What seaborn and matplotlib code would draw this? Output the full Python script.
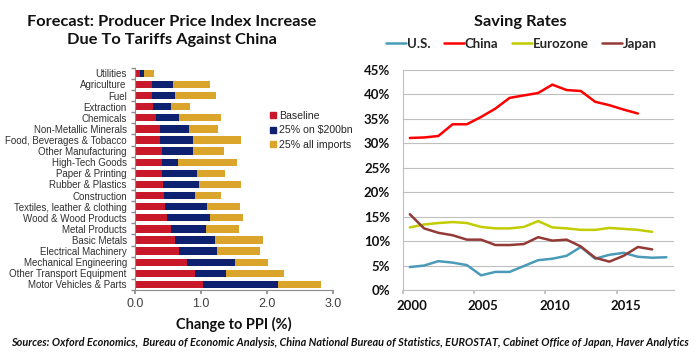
import numpy as np
import pandas as pd
import seaborn as sns
import matplotlib.pyplot as plt
from matplotlib.lines import Line2D
from matplotlib.ticker import FixedLocator

# ---------------- data ----------------
categories = ["Utilities", "Agriculture", "Fuel", "Extraction", "Chemicals",
              "Non-Metallic Minerals", "Food, Beverages & Tobacco", "Other Manufacturing",
              "High-Tech Goods", "Paper & Printing", "Rubber & Plastics", "Construction",
              "Textiles, leather & clothing", "Wood & Wood Products", "Metal Products",
              "Basic Metals", "Electrical Machinery", "Mechanical Engineering",
              "Other Transport Equipment", "Motor Vehicles & Parts"]
baseline = [0.07, 0.26, 0.26, 0.27, 0.31, 0.37, 0.38, 0.40, 0.40, 0.41,
            0.43, 0.44, 0.46, 0.49, 0.54, 0.61, 0.66, 0.79, 0.90, 1.03]
on_200bn = [0.07, 0.32, 0.34, 0.28, 0.36, 0.45, 0.49, 0.47, 0.25, 0.52,
            0.54, 0.47, 0.63, 0.65, 0.53, 0.60, 0.58, 0.73, 0.47, 1.14]
all_imports = [0.15, 0.56, 0.63, 0.28, 0.63, 0.44, 0.73, 0.48, 0.89, 0.43,
               0.63, 0.39, 0.50, 0.50, 0.51, 0.72, 0.65, 0.49, 0.89, 0.64]
bar_series = ["Baseline", "25% on $200bn", "25% all imports"]
ppi_ticks = [0.0, 1.0, 2.0, 3.0]

years = list(range(2000, 2019))
us = [4.7, 5.0, 5.9, 5.6, 5.1, 3.0, 3.7, 3.7, 4.9, 6.1, 6.4, 7.0, 8.8, 6.4,
      7.2, 7.6, 6.8, 6.6, 6.7]
china = [31.1, 31.2, 31.5, 33.9, 33.9, 35.4, 37.1, 39.3, 39.8, 40.3, 42.0,
         40.9, 40.7, 38.5, 37.8, 36.9, 36.1]
eurozone = [12.8, 13.4, 13.7, 13.9, 13.7, 12.9, 12.6, 12.6, 12.9, 14.1, 12.8,
            12.6, 12.3, 12.3, 12.7, 12.5, 12.3, 11.9]
japan = [15.5, 12.6, 11.7, 11.2, 10.3, 10.3, 9.2, 9.2, 9.4, 10.8, 10.1, 10.3,
         8.9, 6.6, 5.8, 7.0, 8.8, 8.3]
line_series = ["U.S.", "China", "Eurozone", "Japan"]
year_ticks = [2000, 2005, 2010, 2015]
pct_ticks = list(range(0, 50, 5))

# ---------------- style ----------------
sns.set_theme(style="white")
plt.rcParams['font.family'] = ['Liberation Sans', 'DejaVu Sans']
TITLE_FONT = ['Lato', 'DejaVu Sans']

RED = "#C8182A"
NAVY = "#0E2170"
GOLD = "#DAA52A"
bar_colors = [RED, NAVY, GOLD]
line_colors = ["#4A9BB8", "#FF0000", "#C2CC00", "#943A36"]

fig = plt.figure(figsize=(7.0, 3.59), dpi=100)

# ---------------- left: stacked bars ----------------
ax1 = fig.add_axes([0.193, 0.1922, 0.283, 0.619])
cum1 = np.array(baseline)
cum2 = cum1 + np.array(on_200bn)
cum3 = cum2 + np.array(all_imports)
df_bar = pd.DataFrame({"cat": categories, "b": cum1, "n": cum2, "g": cum3})
for col, c in zip(["g", "n", "b"], [GOLD, NAVY, RED]):
    sns.barplot(data=df_bar, y="cat", x=col, orient="h", color=c, width=0.66,
                saturation=1, ax=ax1, linewidth=0)
ax1.set_ylim(len(categories) - 0.5, -0.5)
ax1.set_xlim(0, 3.0)
ax1.set_xticks(ppi_ticks)
ax1.set_xticklabels([f"{t:.1f}" for t in ppi_ticks], fontsize=9, color="#404040")
ax1.tick_params(axis="y", labelsize=7, labelcolor="#303030", length=0, pad=6)
ax1.tick_params(axis="x", length=3, color="#8C8C8C", direction="out", bottom=True, pad=3)
ax1.yaxis.set_minor_locator(FixedLocator(np.arange(-0.5, len(categories), 1.0)))
ax1.tick_params(axis="y", which="minor", length=3, color="#8C8C8C", left=True)
ax1.set_ylabel("")
ax1.set_xlabel("Change to PPI (%)", fontsize=10.5, fontweight="bold",
               family=TITLE_FONT, color="#111111", labelpad=5)
for s in ["top", "right"]:
    ax1.spines[s].set_visible(False)
for s in ["left", "bottom"]:
    ax1.spines[s].set_color("#8C8C8C")
    ax1.spines[s].set_linewidth(0.8)

fig.text(0.245, 0.958, "Forecast: Producer Price Index Increase\nDue To Tariffs Against China",
         ha="center", va="top", fontsize=11.8, fontweight="bold", family=TITLE_FONT,
         color="#111111", linespacing=1.35)

bar_handles = [Line2D([0], [0], marker="s", linestyle="none", markersize=4.5,
                      markerfacecolor=c, markeredgecolor=c) for c in bar_colors]
fig.legend(bar_handles, bar_series, loc="upper left", bbox_to_anchor=(0.385, 0.692),
           frameon=False, fontsize=7.6, handlelength=0.6, handletextpad=0.3,
           labelspacing=0.45, borderpad=0, borderaxespad=0)

# ---------------- right: saving rates ----------------
ax2 = fig.add_axes([0.5753, 0.1922, 0.3869, 0.6128])
frames = []
for name, vals in zip(line_series, [us, china, eurozone, japan]):
    frames.append(pd.DataFrame({"year": np.array(years[:len(vals)]) + 0.5,
                                "rate": vals, "series": name}))
df_line = pd.concat(frames, ignore_index=True)
sns.lineplot(data=df_line, x="year", y="rate", hue="series", hue_order=line_series,
             palette=line_colors, linewidth=1.8, ax=ax2, legend=False)
ax2.set_xlim(2000, 2019)
ax2.set_ylim(0, 45)
ax2.set_yticks(pct_ticks)
ax2.set_yticklabels([f"{t}%" for t in pct_ticks], fontsize=9.5, fontweight="bold",
                    family=TITLE_FONT, color="#111111")
ax2.set_xticks(year_ticks)
ax2.set_xticklabels([])
ax2.xaxis.set_minor_locator(FixedLocator([y + 0.65 for y in year_ticks]))
ax2.xaxis.set_minor_formatter(plt.FixedFormatter([str(y) for y in year_ticks]))
ax2.tick_params(axis="x", which="major", length=3, color="#BFBFBF", direction="out",
                bottom=True)
ax2.tick_params(axis="x", which="minor", length=0, pad=7)
for lab in ax2.xaxis.get_minorticklabels():
    lab.set_fontsize(9.5)
    lab.set_fontweight("bold")
    lab.set_family(TITLE_FONT)
    lab.set_color("#111111")
ax2.tick_params(axis="y", length=0, pad=9)
ax2.grid(axis="y", color="#BFBFBF", linewidth=0.8)
ax2.grid(axis="x", visible=False)
ax2.set_xlabel("")
ax2.set_ylabel("")
for s in ["top", "right"]:
    ax2.spines[s].set_visible(False)
for s in ["left", "bottom"]:
    ax2.spines[s].set_color("#BFBFBF")
    ax2.spines[s].set_linewidth(0.8)

fig.text(0.743, 0.958, "Saving Rates", ha="center", va="top", fontsize=11.8,
         fontweight="bold", family=TITLE_FONT, color="#111111")
line_handles = [Line2D([0], [0], color=c, linewidth=1.8) for c in line_colors]
fig.legend(line_handles, line_series, loc="center", bbox_to_anchor=(0.745, 0.878),
           ncol=4, frameon=False, prop={"family": TITLE_FONT, "weight": "bold", "size": 9.5},
           handlelength=1.5, handletextpad=0.1, columnspacing=1.0, borderpad=0)

fig.text(0.5, 0.045, "Sources: Oxford Economics,  Bureau of Economic Analysis, China National Bureau of Statistics, EUROSTAT, Cabinet Office of Japan, Haver Analytics",
         ha="center", va="center", fontsize=7.8, fontweight="bold", style="italic",
         family=TITLE_FONT, color="#111111")

fig.savefig("out.png", dpi=100)
